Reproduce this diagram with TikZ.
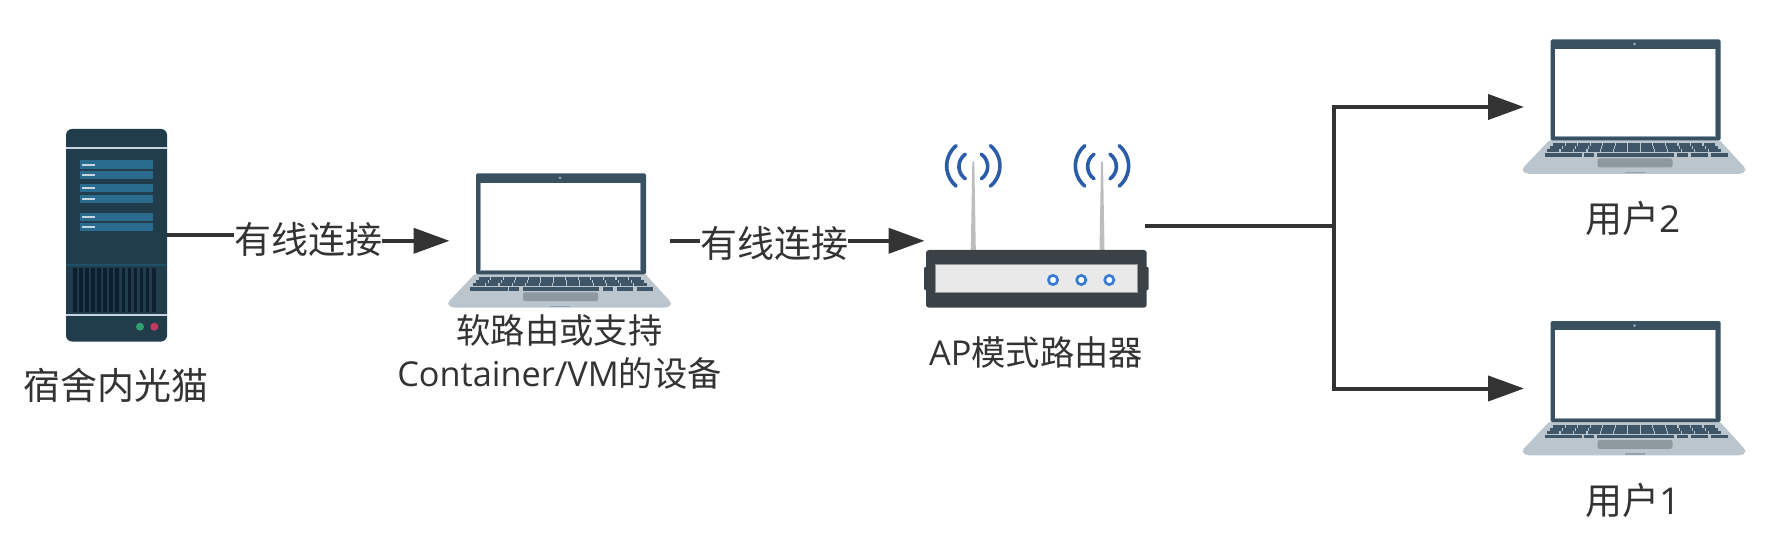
\documentclass[tikz,border=0pt]{standalone}
\usepackage{fontspec}
\setmainfont{Open Sans}
\newfontfamily\cjk{Noto Sans CJK SC}
\usetikzlibrary{arrows.meta}
\definecolor{ink}{HTML}{333333}
\definecolor{srvbody}{HTML}{213D4C}
\definecolor{srvbar}{HTML}{2A6B90}
\definecolor{srvdark}{HTML}{0B1F2E}
\definecolor{srvline}{HTML}{1F5068}
\definecolor{pale}{HTML}{C6D4E0}
\definecolor{lid}{HTML}{38505F}
\definecolor{lidedge}{HTML}{8FA3B2}
\definecolor{lapbase}{HTML}{BAC5CE}
\definecolor{lapkey}{HTML}{3F5668}
\definecolor{pad}{HTML}{8D989F}
\definecolor{rtbody}{HTML}{3A4247}
\definecolor{rtpanel}{HTML}{E9E9E9}
\definecolor{rtled}{HTML}{3B7BD8}
\definecolor{wave}{HTML}{2A5CAA}
\definecolor{mast}{HTML}{BDBDBD}
\definecolor{ledgreen}{HTML}{2FA06E}
\definecolor{ledred}{HTML}{C23B5E}
\newcommand{\lapdraw}[1]{%
\begin{scope}[shift={(#1)}]
 % base
 \fill[lapbase,rounded corners=2pt] (-1,100.5) -- (169,100.5) -- (195,129) -- (195,132) -- (190,134.4) -- (-23,134.4) -- (-28,132) -- (-28,129) -- cycle;
 % lid
 \fill[lid,rounded corners=1.5pt] (0,0) rectangle (170,101);
 \fill[lidedge] (4,9.4) rectangle (165,97.5);
 \fill[white] (4.6,9.4) rectangle (164.4,96.6);
 \fill[lidedge] (84,4.6) circle (1.6);
 % keys
 \foreach \r/\yt/\xa/\xb in {0/103.9/2/165,1/106.9/-1/168,2/109.9/-4/171}{
  \foreach \k in {0,...,12}{
   \pgfmathsetmacro\wk{(\xb-\xa)/13}
   \pgfmathsetmacro\xl{\xa+\k*\wk}
   \fill[lapkey] ({\xl+0.6},\yt) rectangle ({\xl+\wk-0.5},{\yt+2.6});
  }
 }
 \foreach \a/\b in {-6/31.5,33/43,46.5/123,126.5/137,140.5/157,160.5/177}{
  \fill[lapkey] (\a,114) rectangle (\b,117.4);
 }
 \fill[pad,rounded corners=2pt] (47,119) rectangle (122,127.8);
 \fill[lidedge] (74,132.4) rectangle (94,133.6);
\end{scope}}
\newcommand{\antenna}[1]{%
\begin{scope}[shift={(#1)}]
 \fill[mast] (-1,0) -- (1,0) -- (2.5,88.4) -- (-2.5,88.4) -- cycle;
 \draw[wave,line width=3.6pt,line cap=round]
   (-17.2,-16) arc[start angle=230,end angle=130,radius=26.4]
   (17.2,-16) arc[start angle=-50,end angle=50,radius=26.4]
   (-8,-7.5) arc[start angle=235,end angle=125,radius=15]
   (8,-7.5) arc[start angle=-55,end angle=55,radius=15];
\end{scope}}
\tikzset{
 holder/.style={inner sep=0pt,outer sep=0pt,minimum width=#1},
 lbl/.style={text=ink,inner sep=0pt,outer sep=0pt,align=center,font=\fontsize{34.3}{42.5}\selectfont\cjk},
 lblbig/.style={text=ink,inner sep=0pt,outer sep=0pt,align=center,font=\fontsize{37}{44}\selectfont\cjk},
 link/.style={draw=ink,line width=4pt},
 flow/.style={link,-{Triangle[length=36pt,width=25pt]}},
}
\newcommand{\lat}[1]{{\rmfamily #1}}
\begin{document}
\begin{tikzpicture}[x=1pt,y=-1pt]
\useasboundingbox (0,0) rectangle (1768,537);
\fill[white] (0,0) rectangle (1768,537);

% server
\fill[srvbody,rounded corners=6pt] (66,129) rectangle (167,341.5);
\fill[pale] (66,146.9) rectangle (167,148.7);
\fill[pale] (66,314.2) rectangle (167,316);
\foreach \a/\b in {160.3/169,171.3/179,184.3/192.3,195/202.7,212.7/220.7,223/230.7}{
 \fill[srvbar] (80,\a) rectangle (152.5,\b);
 \fill[pale] (82,{(\a+\b)/2-1.1}) rectangle (95,{(\a+\b)/2+1.1});
}
\fill[srvline] (66,264.2) rectangle (167,266);
\foreach \k in {0,...,13}{
 \fill[srvdark] ({73+\k*6.07},268) rectangle ({76.6+\k*6.07},311.7);
}
\fill[ledgreen] (140,326.7) circle (4);
\fill[ledred] (154.3,326.7) circle (4);
\node[holder=101pt,minimum height=212.5pt] (server) at (116.5,235.2) {};

% laptops
\lapdraw{476,173.3}
\node[holder=220pt,minimum height=135pt] (pcmid) at (559.5,240.8) {};
\lapdraw{1550.5,39.5}
\node[holder=220pt,minimum height=135pt] (usertwo) at (1634,107) {};
\lapdraw{1550.5,321}
\node[holder=220pt,minimum height=135pt] (userone) at (1634,388.5) {};

% router
\antenna{973.3,161.7}
\antenna{1102,161.7}
\fill[rtbody,rounded corners=1pt] (924,267) rectangle (1148.7,290);
\fill[rtbody,rounded corners=3pt] (926,250) rectangle (1146.7,307.7);
\fill[mast!80!black] (935,264) rectangle (1137.9,293);
\fill[rtpanel] (935.6,264.9) rectangle (1137.2,292.2);
\foreach \x in {1053,1081.3,1109.3}{
 \draw[rtled,line width=2.7pt,fill=white] (\x,280) circle (4.6);
}
\node[holder=220pt,minimum height=163pt] (router) at (1034.5,226) {};

% labels
\node[lblbig] (lserver) at (116,385) {宿舍内光猫};
\node[lbl] (lmid) at (559.5,352) {软路由或支持\\\lat{Container/VM}的设备};
\node[lbl] (lrouter) at (1036,352) {\lat{AP}模式路由器};
\node[lblbig] (ltwo) at (1633,218) {用户\lat{2}};
\node[lblbig] (lone) at (1633,500) {用户\lat{1}};
\node[lblbig] (wireone) at (308,239) {有线连接};
\node[lblbig] (wiretwo) at (774,243.5) {有线连接};

% connectors
\draw[link] (server.east) -- (wireone.west |- server.east);
\draw[flow] (wireone.east |- pcmid.west) -- (pcmid.west);
\draw[link] (pcmid.east) -- (wiretwo.west |- pcmid.east);
\draw[flow] (wiretwo.east |- pcmid.east) -- (router.west |- pcmid.east);
\coordinate (split) at (1334,226);
\draw[link] (router.east) -- (split);
\draw[flow] (split) |- (usertwo.west);
\draw[flow] (split) |- (userone.west);
\end{tikzpicture}
\end{document}
